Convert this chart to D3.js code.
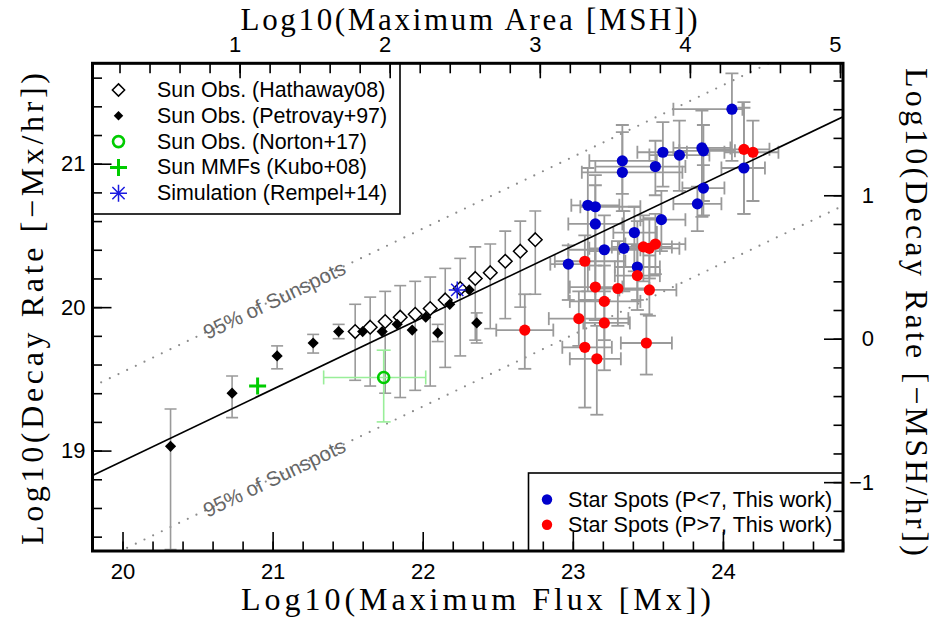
<!DOCTYPE html>
<html>
<head>
<meta charset="utf-8">
<script src="https://cdn.jsdelivr.net/npm/d3@7"></script>
<style>
  body { margin: 0; background: #fff; }
  svg { display: block; }
</style>
</head>
<body>
<svg id="chart" width="938" height="625"></svg>
<script>
// ---------------- data ----------------
// Sun observations, Hathaway (2008): log flux, log decay rate, error range
const hathawayFlux = [21.55, 21.65, 21.75, 21.85, 21.95, 22.05, 22.15, 22.25, 22.35, 22.45, 22.55, 22.65, 22.75];
const hathawayRate = [19.83, 19.86, 19.90, 19.93, 19.95, 19.99, 20.05, 20.13, 20.20, 20.24, 20.32, 20.39, 20.47];
const hathawayHi   = [20.02, 20.07, 20.11, 20.15, 20.18, 20.21, 20.27, 20.34, 20.42, 20.44, 20.53, 20.60, 20.67];
const hathawayLo   = [19.49, 19.45, 19.40, 19.37, 19.42, 19.45, 19.58, 19.66, 19.77, 19.85, 19.92, 20.00, 20.09];

// Sun observations, Petrovay+97 (null = no error bar)
const petrovayFlux = [20.32, 20.73, 21.03, 21.27, 21.44, 21.60, 21.73, 21.83, 21.93, 22.02, 22.10, 22.18, 22.31, 22.36];
const petrovayRate = [19.03, 19.40, 19.66, 19.75, 19.83, 19.83, 19.83, 19.88, 19.84, 19.93, 19.82, 20.02, 20.12, 19.89];
const petrovayLo   = [18.31, 19.23, 19.57, 19.68, 19.78, null, null, null, null, null, 19.76, null, null, 19.75];
const petrovayHi   = [19.29, 19.52, 19.73, 19.81, 19.88, null, null, null, null, null, 19.88, null, null, 19.96];

// Sun observations, Norton+17
const nortonFlux = [21.74], nortonRate = [19.51];
const nortonFluxLo = [21.34], nortonFluxHi = [22.02];
const nortonRateLo = [19.20], nortonRateHi = [19.70];

// Sun MMFs, Kubo+08
const kuboFlux = [20.90], kuboRate = [19.45];

// Simulation, Rempel+14
const rempelFlux = [22.23], rempelRate = [20.12];

// Star spots, P<7
const fastFlux   = [24.06, 23.33, 23.33, 23.60, 23.71, 23.86, 23.87, 23.55, 24.14, 23.87, 23.83, 23.10, 23.15, 23.15, 23.59, 23.41, 23.21, 23.34, 22.97, 23.43];
const fastRate   = [21.38, 21.02, 20.94, 21.08, 21.06, 21.11, 21.09, 20.98, 20.97, 20.83, 20.72, 20.71, 20.70, 20.58, 20.61, 20.52, 20.40, 20.41, 20.30, 20.28];
const fastFluxLo = [23.67, 23.11, 23.06, 23.43, 23.51, 23.67, 23.71, 23.15, 23.99, 23.73, 23.67, 22.99, 23.05, 22.97, 23.45, 23.27, 22.97, 23.11, 22.85, 23.28];
const fastFluxHi = [24.13, 23.56, 23.73, 23.76, 23.91, 24.05, 24.08, 23.75, 24.28, 24.01, 23.99, 23.31, 23.45, 23.33, 23.75, 23.56, 23.45, 23.58, 23.11, 23.58];
const fastRateLo = [21.02, 20.79, 20.67, 20.84, 20.81, 20.63, 20.74, 20.78, 20.65, 20.64, 20.53, 20.11, 20.05, 20.29, 20.39, 20.25, 20.05, 20.11, 20.05, 20.05];
const fastRateHi = [21.63, 21.27, 21.22, 21.29, 21.30, 21.37, 21.27, 21.16, 21.43, 20.99, 20.84, 20.97, 20.92, 20.85, 20.81, 20.70, 20.64, 20.67, 20.43, 20.60];

// Star spots, P>7
const slowFlux   = [22.68, 23.08, 23.15, 23.30, 23.21, 23.04, 23.21, 23.08, 23.16, 23.47, 23.51, 23.55, 23.43, 23.51, 23.49, 24.14, 24.20];
const slowRate   = [19.84, 20.32, 20.14, 20.13, 20.04, 19.92, 19.89, 19.72, 19.64, 20.42, 20.41, 20.44, 20.22, 20.12, 19.75, 21.10, 21.08];
const slowFluxLo = [22.49, 22.88, 22.98, 23.15, 22.98, 22.84, 23.07, 22.93, 22.98, 23.26, 23.31, 23.35, 23.28, 23.31, 23.32, 23.88, 24.01];
const slowFluxHi = [22.87, 23.35, 23.33, 23.51, 23.45, 23.37, 23.38, 23.26, 23.32, 23.66, 23.71, 23.75, 23.58, 23.69, 23.66, 24.31, 24.37];
const slowRateLo = [19.57, 20.05, 19.91, 19.87, 19.77, 19.73, 19.56, 19.30, 19.25, 20.18, 20.20, 20.23, 19.98, 19.94, 19.53, 20.65, 20.74];
const slowRateHi = [20.09, 20.50, 20.39, 20.46, 20.29, 20.11, 20.11, 20.05, 19.87, 20.64, 20.62, 20.65, 20.43, 20.36, 19.95, 21.39, 21.30];

// Power-law fit and the 95% band of sunspots
const fitSlope = 0.5, fitIntercept = 8.927, bandHalfWidth = 0.62;

// Unit conversion between Mx and MSH (log offset)
const mshOffset = 19.78;

// Axis ranges and ticks
const fluxDomain = [19.8, 24.8], rateDomain = [18.3, 21.7];
const fluxMajor = [20, 21, 22, 23, 24];
const rateMajor = [19, 20, 21];
const areaMajor = [1, 2, 3, 4, 5];
const mshRateMajor = [-1, 0, 1];

const legendTop = [
  {label: "Sun Obs. (Hathaway08)", kind: "hollow"},
  {label: "Sun Obs. (Petrovay+97)", kind: "filled"},
  {label: "Sun Obs. (Norton+17)", kind: "circle"},
  {label: "Sun MMFs (Kubo+08)", kind: "plus"},
  {label: "Simulation (Rempel+14)", kind: "star"}
];
const legendStars = [
  {label: "Star Spots (P<7, This work)", color: "#0000cc"},
  {label: "Star Spots (P>7, This work)", color: "#ff0000"}
];

// ---------------- drawing ----------------
const svg = d3.select("#chart");
const pL = 92.5, pR = 843, pT = 63.3, pB = 551;

const x = d3.scaleLinear().domain(fluxDomain).range([pL, pR]);
const y = d3.scaleLinear().domain(rateDomain).range([pB, pT]);
const xTop = d3.scaleLinear().domain(fluxDomain.map(v => v - mshOffset)).range([pL, pR]);
const yRight = d3.scaleLinear().domain(rateDomain.map(v => v - mshOffset)).range([pB, pT]);

const SANS = "'Liberation Sans', Arial, Helvetica, sans-serif";
const SERIF = "'Liberation Serif', 'Times New Roman', serif";
const GREY = "#9a9a9a";

svg.append("rect").attr("width", 938).attr("height", 625).attr("fill", "#fff");

svg.append("clipPath").attr("id", "plotClip")
  .append("rect").attr("x", pL).attr("y", pT).attr("width", pR - pL).attr("height", pB - pT);

const plot = svg.append("g").attr("clip-path", "url(#plotClip)");

// fit line and 95% band
const fitLine = (off) => d3.line()([fluxDomain[0], fluxDomain[1]].map(f => [x(f), y(fitSlope * f + fitIntercept + off)]));
[bandHalfWidth, -bandHalfWidth].forEach(off => {
  plot.append("path").attr("d", fitLine(off))
    .attr("stroke", "#8c8c8c").attr("stroke-width", 2.2).attr("fill", "none")
    .attr("stroke-dasharray", "0,9.6").attr("stroke-linecap", "round");
});

// band labels along the dotted lines
const angle = Math.atan2(y(fitSlope) - y(0), x(1) - x(0)) * 180 / Math.PI;
[bandHalfWidth, -bandHalfWidth].forEach(off => {
  const f = 21.01;
  const px = x(f), py = y(fitSlope * f + fitIntercept + off);
  plot.append("text").text("95% of Sunspots")
    .attr("transform", `translate(${px},${py}) rotate(${angle})`)
    .attr("text-anchor", "middle").attr("dominant-baseline", "central")
    .attr("font-family", SANS).attr("font-size", 20.5).attr("fill", "#666");
});

// error bar helpers
function vBar(g, fx, lo, hi, color, cap, w) {
  if (lo == null || hi == null) return;
  g.append("line").attr("x1", x(fx)).attr("x2", x(fx)).attr("y1", y(lo)).attr("y2", y(hi))
    .attr("stroke", color).attr("stroke-width", w);
  [lo, hi].forEach(v => g.append("line").attr("x1", x(fx) - cap).attr("x2", x(fx) + cap)
    .attr("y1", y(v)).attr("y2", y(v)).attr("stroke", color).attr("stroke-width", w));
}
function hBar(g, ry, lo, hi, color, cap, w) {
  g.append("line").attr("x1", x(lo)).attr("x2", x(hi)).attr("y1", y(ry)).attr("y2", y(ry))
    .attr("stroke", color).attr("stroke-width", w);
  [lo, hi].forEach(v => g.append("line").attr("x1", x(v)).attr("x2", x(v))
    .attr("y1", y(ry) - cap).attr("y2", y(ry) + cap).attr("stroke", color).attr("stroke-width", w));
}

const bars = plot.append("g");
hathawayFlux.forEach((f, i) => vBar(bars, f, hathawayLo[i], hathawayHi[i], GREY, 6, 1.6));
petrovayFlux.forEach((f, i) => vBar(bars, f, petrovayLo[i], petrovayHi[i], GREY, 6, 1.6));
fastFlux.forEach((f, i) => {
  vBar(bars, f, fastRateLo[i], fastRateHi[i], GREY, 6.5, 1.8);
  hBar(bars, fastRate[i], fastFluxLo[i], fastFluxHi[i], GREY, 6.5, 1.8);
});
slowFlux.forEach((f, i) => {
  vBar(bars, f, slowRateLo[i], slowRateHi[i], GREY, 6.5, 1.8);
  hBar(bars, slowRate[i], slowFluxLo[i], slowFluxHi[i], GREY, 6.5, 1.8);
});
nortonFlux.forEach((f, i) => {
  vBar(bars, f, nortonRateLo[i], nortonRateHi[i], "#99ee99", 7, 1.6);
  hBar(bars, nortonRate[i], nortonFluxLo[i], nortonFluxHi[i], "#99ee99", 7, 1.6);
});

// fit line
plot.append("path").attr("d", fitLine(0)).attr("stroke", "#000").attr("stroke-width", 1.6).attr("fill", "none");

// marker shapes
const diamond = (cx, cy, s) => `M${cx},${cy - s}L${cx + s},${cy}L${cx},${cy + s}L${cx - s},${cy}Z`;
function drawMarker(g, kind, cx, cy, scale = 1) {
  if (kind === "hollow") {
    g.append("path").attr("d", diamond(cx, cy, 6.8 * scale)).attr("fill", "#fff").attr("stroke", "#000").attr("stroke-width", 1.5);
  } else if (kind === "filled") {
    g.append("path").attr("d", diamond(cx, cy, 5.6 * scale)).attr("fill", "#000");
  } else if (kind === "circle") {
    g.append("circle").attr("cx", cx).attr("cy", cy).attr("r", 5.5).attr("fill", "none").attr("stroke", "#00cc00").attr("stroke-width", 2.6);
  } else if (kind === "plus") {
    const a = 8.5;
    g.append("path").attr("d", `M${cx - a},${cy}H${cx + a}M${cx},${cy - a}V${cy + a}`).attr("stroke", "#00cc00").attr("stroke-width", 3);
  } else if (kind === "star") {
    const a = 8.5, d = a * 0.72;
    g.append("path").attr("d", `M${cx - a},${cy}H${cx + a}M${cx},${cy - a}V${cy + a}M${cx - d},${cy - d}L${cx + d},${cy + d}M${cx - d},${cy + d}L${cx + d},${cy - d}`)
      .attr("stroke", "#1a1ae0").attr("stroke-width", 1.5);
  }
}

const marks = plot.append("g");
hathawayFlux.forEach((f, i) => drawMarker(marks, "hollow", x(f), y(hathawayRate[i])));
petrovayFlux.forEach((f, i) => drawMarker(marks, "filled", x(f), y(petrovayRate[i])));
nortonFlux.forEach((f, i) => drawMarker(marks, "circle", x(f), y(nortonRate[i])));
kuboFlux.forEach((f, i) => drawMarker(marks, "plus", x(f), y(kuboRate[i])));
rempelFlux.forEach((f, i) => drawMarker(marks, "star", x(f), y(rempelRate[i])));

marks.selectAll("circle.fast").data(fastFlux).join("circle").attr("class", "fast")
  .attr("cx", d => x(d)).attr("cy", (d, i) => y(fastRate[i])).attr("r", 5.6).attr("fill", "#0000cc");
marks.selectAll("circle.slow").data(slowFlux).join("circle").attr("class", "slow")
  .attr("cx", d => x(d)).attr("cy", (d, i) => y(slowRate[i])).attr("r", 5.6).attr("fill", "#ff0000");

// legends
const lg1 = svg.append("g");
lg1.append("rect").attr("x", pL).attr("y", pT).attr("width", 400 - pL).attr("height", 214 - pT)
  .attr("fill", "#fff").attr("stroke", "#000").attr("stroke-width", 1.6);
legendTop.forEach((d, i) => {
  const cy = 90 + i * 25.8;
  drawMarker(lg1, d.kind, 118.5, cy, d.kind === "filled" ? 0.85 : 0.9);
  lg1.append("text").text(d.label).attr("x", 157).attr("y", cy).attr("dominant-baseline", "central")
    .attr("font-family", SANS).attr("font-size", 21.4).attr("fill", "#000");
});

const lg2 = svg.append("g");
lg2.append("rect").attr("x", 528.5).attr("y", 473).attr("width", pR - 528.5).attr("height", pB - 473)
  .attr("fill", "#fff").attr("stroke", "#000").attr("stroke-width", 1.6);
legendStars.forEach((d, i) => {
  const cy = 499.5 + i * 25.3;
  lg2.append("circle").attr("cx", 547).attr("cy", cy).attr("r", 5.2).attr("fill", d.color);
  lg2.append("text").text(d.label).attr("x", 568).attr("y", cy).attr("dominant-baseline", "central")
    .attr("font-family", SANS).attr("font-size", 21.6).attr("fill", "#000");
});

// axes (ticks point into the plot)
function minorTicks(lo, hi) { return d3.range(Math.ceil(lo * 5), Math.floor(hi * 5) + 1).map(k => k / 5); }
function styleAxis(g) {
  g.select(".domain").remove();
  g.selectAll(".tick line").attr("stroke", "#000").attr("stroke-width", 1.6);
  g.selectAll("text").attr("font-family", SANS).attr("font-size", 22).attr("fill", "#000");
}

svg.append("g").attr("transform", `translate(0,${pB})`)
  .call(d3.axisBottom(x).tickValues(minorTicks(...fluxDomain)).tickSize(-9.5).tickFormat("")).call(styleAxis);
svg.append("g").attr("transform", `translate(0,${pB})`)
  .call(d3.axisBottom(x).tickValues(fluxMajor).tickSize(-19).tickPadding(12).tickFormat(d3.format("d"))).call(styleAxis);

svg.append("g").attr("transform", `translate(0,${pT})`)
  .call(d3.axisTop(xTop).tickValues(minorTicks(...xTop.domain())).tickSize(-10).tickFormat("")).call(styleAxis);
svg.append("g").attr("transform", `translate(0,${pT})`)
  .call(d3.axisTop(xTop).tickValues(areaMajor).tickSize(-15).tickPadding(11).tickFormat(d3.format("d"))).call(styleAxis)
  .selectAll("text").attr("dx", -5);

svg.append("g").attr("transform", `translate(${pL},0)`)
  .call(d3.axisLeft(y).tickValues(minorTicks(...rateDomain)).tickSize(-9.5).tickFormat("")).call(styleAxis);
svg.append("g").attr("transform", `translate(${pL},0)`)
  .call(d3.axisLeft(y).tickValues(rateMajor).tickSize(-19).tickFormat(d3.format("d"))).call(styleAxis)
  .selectAll("text").attr("x", -7);

svg.append("g").attr("transform", `translate(${pR},0)`)
  .call(d3.axisRight(yRight).tickValues(minorTicks(...yRight.domain())).tickSize(-9.5).tickFormat("")).call(styleAxis);
svg.append("g").attr("transform", `translate(${pR},0)`)
  .call(d3.axisRight(yRight).tickValues(mshRateMajor).tickSize(-19).tickFormat(d => d < 0 ? "\u2212" + Math.abs(d) : d)).call(styleAxis)
  .selectAll("text").attr("x", 31).attr("text-anchor", "end");

// frame
svg.append("rect").attr("x", pL).attr("y", pT).attr("width", pR - pL).attr("height", pB - pT)
  .attr("fill", "none").attr("stroke", "#000").attr("stroke-width", 3);

// axis titles
const title = (txt, tx, ty, rot, len, size) => svg.append("text").text(txt)
  .attr("transform", `translate(${tx},${ty}) rotate(${rot})`)
  .attr("text-anchor", "middle").attr("dominant-baseline", "central")
  .attr("font-family", SERIF).attr("font-size", size).attr("fill", "#000")
  .attr("textLength", len).attr("lengthAdjust", "spacing");
title("Log10(Maximum Flux [Mx])", 476, 599, 0, 470, 32);
title("Log10(Maximum Area [MSH])", 469, 19, 0, 457, 31);
title("Log10(Decay Rate [\u2212Mx/hr])", 32, 309, -90, 472, 32);
title("Log10(Decay Rate [\u2212MSH/hr])", 917, 312, 90, 488, 32);
</script>
</body>
</html>
